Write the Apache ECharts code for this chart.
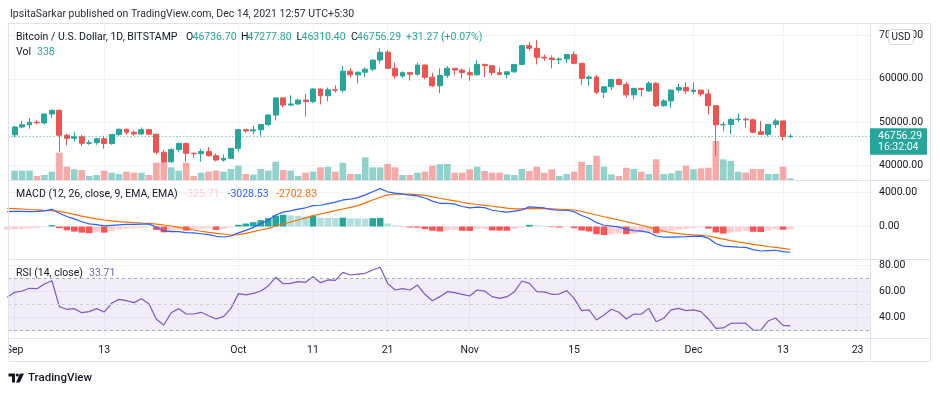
<!DOCTYPE html>
<html><head><meta charset="utf-8">
<script src="https://cdn.jsdelivr.net/npm/echarts@6/dist/echarts.min.js"></script>
<style>html,body{margin:0;padding:0;background:#fff}#c{width:940px;height:393px}</style>
</head><body><div id="c"></div><script>
// ---------- DATA ----------
// Daily candles, BTC/USD Bitstamp, Sep 1 2021 (day 0) .. Dec 14 2021 (day 104)
const opens = [47100,48900,49400,50000,49850,51900,52750,47000,46300,46650,45150,45300,46200,45100,47200,48400,47700,47300,48300,47250,43100,40900,43700,45100,42850,42750,43250,42300,41300,41700,44000,48300,48000,48250,49500,51650,55600,53950,54200,55100,54750,57650,56100,57450,57350,61750,60900,61500,62200,64300,66100,62400,60650,61400,61050,63150,60350,58400,60800,62400,62000,61400,60900,63300,63000,61400,61000,61600,63300,67600,67000,64950,64750,64400,64550,65600,63550,60100,60400,56900,58150,59850,58700,56300,57800,57200,58950,53800,54900,57400,58000,57050,57400,56500,53800,49400,49500,50650,50700,50550,47800,47200,49500,50300,46736.70];
const highs = [49100,50300,51000,50500,51900,52900,52900,47400,47700,47100,45900,46400,46900,47300,48500,48500,48100,48800,48400,47350,43600,44000,45300,45300,43000,43900,44300,42800,42600,44100,48400,48400,49200,49500,51900,55700,55700,56200,55400,56500,57800,57700,58000,58500,63000,62400,61700,62600,64400,67000,66600,63700,61700,61500,63700,63300,61400,62400,62900,62500,62400,62400,64300,63500,63100,62600,61600,63300,67800,68500,68900,65600,65400,64900,65700,66300,63600,60800,60900,58300,59900,60000,59300,57850,57900,59400,59150,55300,57500,58900,59200,59200,57500,57600,53900,50100,50900,52000,51100,50800,50300,49600,50800,50400,47277.80];
const lows = [46600,48600,48500,49500,49500,51000,43200,44700,45600,44500,44800,44800,43900,44800,46800,47100,46900,47100,47000,42600,40500,40600,43100,40900,41800,40900,42100,41000,40900,41500,43300,47500,47200,46900,49100,50400,53400,53700,53900,51300,54400,54100,54800,56800,56900,60300,58900,60400,61800,63500,62200,60000,60200,59600,60700,59900,58100,56700,60200,60800,60100,59500,60700,60400,60700,60800,60100,61400,63100,66400,63300,64100,62400,63400,63600,63400,58600,58400,56500,55600,57400,58500,55700,55300,55900,57000,53500,53600,53300,56800,56500,56500,55900,51800,42300,47900,47300,50100,48800,47400,47100,46700,48700,45800,46310.40];
const closes = [48900,49400,50000,49850,51900,52750,47000,46300,46650,45150,45300,46200,45100,47200,48400,47700,47300,48300,47250,43100,40900,43700,45100,42850,42750,43250,42300,41300,41700,44000,48300,48000,48250,49500,51650,55600,53950,54200,55100,54750,57650,56100,57450,57350,61750,60900,61500,62200,64300,66100,62400,60650,61400,61050,63150,60350,58400,60800,62400,62000,61400,60900,63300,63000,61400,61000,61600,63300,67600,67000,64950,64750,64400,64550,65600,63550,60100,60400,56900,58150,59850,58700,56300,57800,57500,58950,53800,54900,57400,58000,57200,57400,56500,53800,49400,49500,50650,50700,50550,47700,47200,49500,50300,46725.02,46756.29];
const volumes = [1860,1860,1860,800,1000,1660,5460,2660,2140,2000,800,1000,1860,1460,1200,1660,1460,1460,1000,3460,3660,2540,1860,3460,800,1460,1660,1860,1660,2200,2860,1200,1060,2200,1860,3660,2000,1860,800,1460,1660,2540,2660,1660,3460,1200,1200,4540,2540,2540,3200,2540,1000,1000,1460,1660,2860,3140,3200,1460,1460,2140,2660,1800,1460,1460,1140,1000,2200,1800,2660,1460,2140,800,1200,1660,3660,3000,4860,2660,1140,800,2460,2200,1660,1200,4140,1200,1340,1860,2860,2170,2340,2460,7800,4140,3800,1660,1460,2200,2200,1200,1200,2660,338];

// Indicators start one day earlier (Aug 31 = day -1) .. Dec 14
const indStartDay = -1;
const macdLine = [1745,1770,1770,1760,1790,1830,2020,1560,1180,900,560,310,230,70,140,200,240,250,280,285,-60,-520,-610,-610,-730,-760,-850,-950,-1150,-1235,-1120,-750,-450,-100,335,764,1353,1690,1830,2040,2200,2460,2500,2700,2870,3120,3220,3400,3720,4090,4450,4080,3920,3800,3680,3600,3350,2980,2730,2730,2630,2350,2180,2276,2215,1910,1790,1680,1805,1962,2306,2248,2180,1992,1912,1912,1744,1290,972,450,150,50,-40,-340,-490,-550,-680,-1120,-1260,-1250,-1210,-1190,-1160,-1130,-1370,-2000,-2300,-2360,-2420,-2460,-2720,-2880,-2830,-2790,-2960,-3028.53];
const signalLine = [2137,2100,2059,2000,1950,1900,1863,1780,1600,1431,1230,1039,900,765,660,569,510,451,410,373,290,176,60,-100,-250,-412,-560,-686,-800,-882,-1000,-950,-800,-608,-410,-216,59,294,530,765,1020,1274,1470,1667,1863,2059,2255,2451,2780,3110,3440,3720,3800,3824,3800,3740,3660,3480,3320,3160,3010,2850,2700,2590,2490,2380,2270,2170,2080,2080,2110,2130,2100,2070,2030,1990,1940,1760,1560,1350,1150,950,760,560,360,150,-80,-320,-560,-730,-830,-920,-990,-1040,-1120,-1300,-1480,-1660,-1820,-1960,-2100,-2230,-2350,-2460,-2580,-2702.83];
const histogram = [-390,-310,-275,-235,-160,-80,160,-200,-450,-600,-720,-790,-680,-720,-520,-340,-260,-210,-140,-100,-400,-690,-600,-420,-480,-300,-260,-220,-400,-290,-100,200,353,510,745,980,1294,1373,1294,1255,1176,1240,1030,1020,1000,1040,960,940,930,980,1010,353,118,-30,-120,-140,-314,-500,-590,-430,-380,-500,-520,-314,-275,-470,-480,-490,-275,-118,196,118,80,-78,-118,-78,-196,-470,-588,-900,-1000,-900,-800,-900,-850,-700,-600,-800,-700,-520,-380,-270,-170,-90,-250,-700,-820,-700,-600,-500,-620,-650,-480,-330,-380,-325.71];
const rsi = [55.6,59.4,60.4,62.5,62.2,65.8,68.3,48.4,46.4,46.9,43.8,44.6,46.9,44.3,51.0,54.0,53.0,51.5,54.5,50.7,38.7,34.4,43.8,46.9,42.8,42.8,44.1,41.5,39.0,40.8,47.1,58.4,57.4,58.6,60.4,64.3,70.9,66.0,66.3,67.6,67.1,71.4,66.8,68.9,68.6,74.7,72.7,73.4,74.0,76.5,78.6,66.3,61.2,62.2,61.2,65.0,57.9,53.0,56.1,59.9,59.2,57.9,56.6,61.2,60.4,56.1,54.8,56.1,59.9,68.1,66.3,59.9,59.7,57.9,58.1,60.7,54.8,45.4,45.9,38.2,42.0,46.4,44.1,39.0,42.8,42.6,47.1,36.9,39.5,45.9,47.1,45.4,45.9,44.6,39.0,31.8,32.1,35.6,35.9,35.6,30.5,30.3,37.4,39.7,34.1,33.71];

// Axis ticks
const tickDays = [0, 12, 30, 40, 50, 61, 75, 91, 103, 113];
const tickLabels = ['Sep', '13', 'Oct', '11', '21', 'Nov', '15', 'Dec', '13', '23'];
const priceTicks = [40000, 50000, 60000, 70000];
const macdTicks = [0, 4000];
const rsiTicks = [40, 60, 80];
const rsiBands = [70, 50, 30];

// ---------- CHART ----------
const FONT = 'Roboto, "Noto Sans", sans-serif';
const TXT = '#131722';
const UP = '#26a69a', DOWN = '#ef5350';
const UPV = 'rgba(38,166,154,0.5)', DOWNV = 'rgba(239,83,80,0.5)';
const GRIDC = '#f0f3fa';
const n = closes.length;

const candleData = closes.map((c, i) => [i, opens[i], c, lows[i], highs[i]]);
const volData = volumes.map((v, i) => ({ value: [i, v], itemStyle: { color: closes[i] >= opens[i] ? UPV : DOWNV } }));
const histData = histogram.map((h, i) => {
  const prev = i > 0 ? histogram[i - 1] : h;
  let col;
  if (h >= 0) col = h >= prev ? '#26a69a' : '#b2dfdb';
  else col = h >= prev ? '#ffcdd2' : '#ff5252';
  return { value: [i + indStartDay, h], itemStyle: { color: col } };
});
const toXY = arr => arr.map((v, i) => [i + indStartDay, v]);

const XMIN = -0.885, XMAX = 114.66;
const gridBase = { left: 8, width: 862, containLabel: false, outerBoundsMode: 'none' };
function xAx(gi, showLabel) {
  return {
    type: 'value', gridIndex: gi, min: XMIN, max: XMAX,
    axisLine: { show: false },
    axisTick: { show: false, customValues: tickDays },
    splitLine: { show: true, lineStyle: { color: GRIDC, width: 1 } },
    axisLabel: {
      show: showLabel, customValues: tickDays, color: TXT, fontSize: 10.5, fontFamily: FONT, margin: 7,
      formatter: v => { const k = tickDays.indexOf(v); return k >= 0 ? tickLabels[k] : ''; }
    }
  };
}
function yAx(gi, min, max, ticks, fmt, show) {
  return {
    type: 'value', gridIndex: gi, position: 'right', min, max,
    show: show !== false,
    axisLine: { show: false },
    axisTick: { show: false, customValues: ticks },
    splitLine: { show: show !== false, lineStyle: { color: GRIDC, width: 1 } },
    axisLabel: { show: show !== false, customValues: ticks, color: TXT, fontSize: 10.5, fontFamily: FONT, margin: 9, formatter: fmt }
  };
}
const f2 = v => v.toFixed(2);

const chart = echarts.init(document.getElementById('c'), null, { renderer: 'canvas', width: 940, height: 393 });

const lastO = opens[n - 1], lastH = highs[n - 1], lastL = lows[n - 1], lastC = closes[n - 1];
const chg = lastC - closes[n - 2];
const chgTxt = (chg >= 0 ? '+' : '') + chg.toFixed(2) + ' (' + (chg >= 0 ? '+' : '') + (chg / closes[n - 2] * 100).toFixed(2) + '%)';

function txt(x, y, s, color, size, extra) {
  return Object.assign({
    type: 'text', x, y, z: 100,
    style: { text: s, fill: color || TXT, font: (size || 10.5) + 'px ' + FONT, textAlign: 'left', textVerticalAlign: 'middle', align: 'left', verticalAlign: 'middle' }
  }, extra || {});
}
function hline(y, x1, x2, c) { return { type: 'line', z: 90, shape: { x1, y1: y, x2, y2: y }, style: { stroke: c || '#e0e3eb', lineWidth: 1 } }; }
function vline(x, y1, y2, c) { return { type: 'line', z: 90, shape: { x1: x, y1, x2: x, y2 }, style: { stroke: c || '#e0e3eb', lineWidth: 1 } }; }

const graphics = [
  // mask to clip first time label at the frame edge
  { type: 'rect', z: 80, shape: { x: 0, y: 339, width: 8, height: 23 }, style: { fill: '#fff' } },
  // frame and pane separators
  { type: 'rect', z: 90, shape: { x: 8.5, y: 23.5, width: 922, height: 338 }, style: { fill: 'none', stroke: '#e0e3eb', lineWidth: 1 } },
  hline(180.5, 8, 931), hline(259.5, 8, 931), hline(338.5, 8, 931),
  vline(870.5, 23, 362),
  // header
  txt(10, 14.5, 'IpsitaSarkar published on TradingView.com, Dec 14, 2021 12:57 UTC+5:30', '#2a2e39', 10.5),
  // price legend
  txt(16, 37, 'Bitcoin / U.S. Dollar, 1D, BITSTAMP'),
  txt(186, 37, 'O'), txt(192.5, 37, f2(lastO), UP),
  txt(241, 37, 'H'), txt(247.5, 37, f2(lastH), UP),
  txt(296.5, 37, 'L'), txt(301.5, 37, f2(lastL), UP),
  txt(351, 37, 'C'), txt(357, 37, f2(lastC), UP),
  txt(406, 37, chgTxt, UP),
  txt(16, 52, 'Vol'), txt(37, 52, String(volumes[n - 1]), UP),
  // MACD legend
  txt(16, 194, 'MACD (12, 26, close, 9, EMA, EMA)'),
  txt(184.3, 194, f2(histogram[histogram.length - 1]), '#ffcdd2'),
  txt(227.5, 194, f2(macdLine[macdLine.length - 1]), '#2962ff'),
  txt(276, 194, f2(signalLine[signalLine.length - 1]), '#ff6d00'),
  // RSI legend
  txt(16, 273, 'RSI (14, close)'),
  txt(89, 273, f2(rsi[rsi.length - 1]), '#7e57c2'),
  // USD badge
  { type: 'rect', z: 110, shape: { x: 888.5, y: 29.5, width: 25, height: 15, r: 3 }, style: { fill: '#fff', stroke: '#d1d4dc', lineWidth: 1 } },
  txt(901, 37.2, 'USD', TXT, 10, { z: 111, style: { text: 'USD', fill: TXT, font: '10px ' + FONT, textAlign: 'center', align: 'center', textVerticalAlign: 'middle', verticalAlign: 'middle' } }),
  // TradingView logo + name
  { type: 'polygon', z: 100, shape: { points: [[8.5, 373.5], [15, 373.5], [15, 382.5], [12, 382.5], [12, 376.5], [8.5, 376.5]] }, style: { fill: '#131722' } },
  { type: 'circle', z: 100, shape: { cx: 17.3, cy: 375, r: 1.6 }, style: { fill: '#131722' } },
  { type: 'polygon', z: 100, shape: { points: [[20, 373.5], [24, 373.5], [19.8, 382.5], [16, 382.5]] }, style: { fill: '#131722' } },
  txt(28, 378, 'TradingView', TXT, 11.5, { style: { text: 'TradingView', fill: TXT, font: '500 11.5px ' + FONT, textAlign: 'left', align: 'left', textVerticalAlign: 'middle', verticalAlign: 'middle' } })
];

const option = {
  animation: false,
  backgroundColor: '#fff',
  textStyle: { fontFamily: FONT },
  grid: [
    Object.assign({ top: 23, height: 157 }, gridBase),
    Object.assign({ top: 23, height: 157 }, gridBase),
    Object.assign({ top: 181, height: 78 }, gridBase),
    Object.assign({ top: 260, height: 78 }, gridBase)
  ],
  xAxis: [xAx(0, false), xAx(1, false), xAx(2, false), xAx(3, true)],
  yAxis: [
    yAx(0, 36712, 72830, priceTicks, f2),
    { type: 'value', gridIndex: 1, min: 0, max: 31400, show: false, splitLine: { show: false } },
    yAx(2, -3822, 5351, macdTicks, f2),
    yAx(3, 24.41, 84.18, rsiTicks, f2)
  ],
  series: [
    {
      type: 'bar', name: 'Volume', xAxisIndex: 1, yAxisIndex: 1, data: volData, barWidth: 6.6, z: 1, silent: true
    },
    {
      type: 'candlestick', name: 'BTCUSD', xAxisIndex: 0, yAxisIndex: 0, z: 3,
      data: candleData, encode: { x: 0, y: [1, 2, 3, 4] }, barWidth: 5.4,
      itemStyle: { color: UP, color0: DOWN, borderColor: UP, borderColor0: DOWN, borderWidth: 1 },
      markLine: {
        silent: true, symbol: ['none', 'none'], label: { show: false },
        lineStyle: { color: UP, type: [1.5, 2], width: 1, opacity: 0.6 },
        data: [{ yAxis: lastC }]
      }
    },
    {
      type: 'bar', name: 'Histogram', xAxisIndex: 2, yAxisIndex: 2, data: histData, barWidth: 6.6, silent: true
    },
    {
      type: 'line', name: 'MACD', xAxisIndex: 2, yAxisIndex: 2, data: toXY(macdLine), showSymbol: false, symbol: 'none',
      lineStyle: { color: '#2962ff', width: 1.2 }, z: 4
    },
    {
      type: 'line', name: 'Signal', xAxisIndex: 2, yAxisIndex: 2, data: toXY(signalLine), showSymbol: false, symbol: 'none',
      lineStyle: { color: '#ff6d00', width: 1.2 }, z: 3
    },
    {
      type: 'line', name: 'RSI', xAxisIndex: 3, yAxisIndex: 3, data: toXY(rsi), showSymbol: false, symbol: 'none',
      lineStyle: { color: '#7e57c2', width: 1.2 }, z: 4,
      markArea: { silent: true, itemStyle: { color: 'rgba(126,87,194,0.1)' }, data: [[{ yAxis: rsiBands[0] }, { yAxis: rsiBands[2] }]] },
      markLine: {
        silent: true, symbol: ['none', 'none'], label: { show: false },
        data: [
          { yAxis: rsiBands[0], lineStyle: { color: '#a9acb5', type: [3, 3], width: 1 } },
          { yAxis: rsiBands[1], lineStyle: { color: '#cfd1d7', type: [3, 3], width: 1 } },
          { yAxis: rsiBands[2], lineStyle: { color: '#a9acb5', type: [3, 3], width: 1 } }
        ]
      }
    }
  ],
  graphic: { elements: graphics }
};
chart.setOption(option);

// last-price tag on the price scale, positioned through the price axis
const py = chart.convertToPixel({ yAxisIndex: 0 }, lastC);
const tag = [
  { type: 'rect', z: 120, shape: { x: 870, y: py - 8.2, width: 57, height: 26.7 }, style: { fill: UP } },
  txt(878, py + 0.3, f2(lastC), '#fff', 10.5, { z: 121 }),
  txt(878, py + 11.1, '16:32:04', '#fff', 10.5, { z: 121 })
];
chart.setOption({ graphic: { elements: graphics.concat(tag) } });
</script></body></html>
